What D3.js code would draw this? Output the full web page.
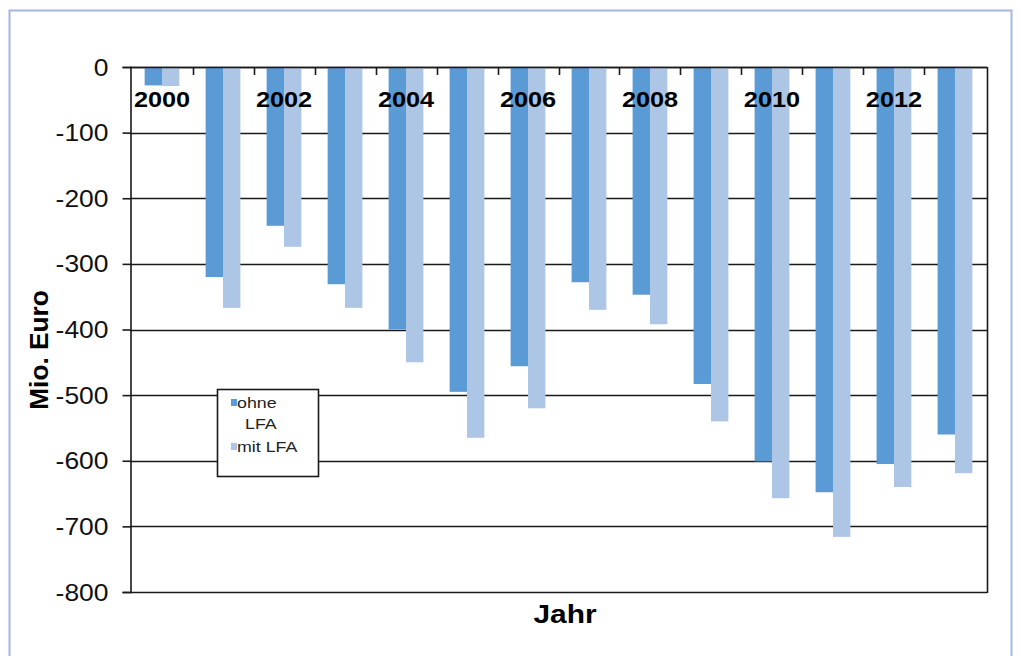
<!DOCTYPE html>
<html>
<head>
<meta charset="utf-8">
<script src="https://cdn.jsdelivr.net/npm/d3@7"></script>
<style>
  html, body { margin: 0; padding: 0; background: #fff; }
  svg { display: block; }
  text { font-family: "Liberation Sans", Arial, sans-serif; }
</style>
</head>
<body>
<svg id="chart" width="1020" height="656"></svg>
<script>
// Jahre (Kategorien) und Salden in Mio. Euro
const years = [2000, 2001, 2002, 2003, 2004, 2005, 2006, 2007, 2008, 2009, 2010, 2011, 2012, 2013];
const ohneLFA = [-28, -320, -242, -331, -400, -495, -456, -328, -347, -483, -601, -648, -605, -560];
const mitLFA  = [-29, -367, -274, -367, -450, -565, -520, -370, -392, -540, -657, -716, -640, -619];
const seriesNames = ["ohne LFA", "mit LFA"];
const seriesColors = ["#5b9bd5", "#adc6e6"];
const yTicks = [0, -100, -200, -300, -400, -500, -600, -700, -800];
const yearLabels = [2000, 2002, 2004, 2006, 2008, 2010, 2012];

const svg = d3.select("#chart");
const SX = 1.15; // horizontal stretch of the lettering

// outer chart frame
svg.append("rect")
  .attr("x", 9.5).attr("y", 10.5)
  .attr("width", 1002).attr("height", 700)
  .attr("fill", "none").attr("stroke", "#a3b6e4").attr("stroke-width", 2);

const plot = { left: 130, right: 987, top: 67, bottom: 592 };

const x = d3.scaleBand()
  .domain(years)
  .range([plot.left, plot.right])
  .paddingInner(0.43)
  .paddingOuter(0.24);

const xInner = d3.scaleBand()
  .domain(seriesNames)
  .range([0, x.bandwidth()]);

const y = d3.scaleLinear()
  .domain([-800, 0])
  .range([plot.bottom, plot.top]);

// horizontal gridlines
svg.append("g")
  .selectAll("line")
  .data(yTicks)
  .join("line")
  .attr("x1", plot.left).attr("x2", plot.right)
  .attr("y1", d => Math.round(y(d)) + 0.5).attr("y2", d => Math.round(y(d)) + 0.5)
  .attr("stroke", "#1a1a1a").attr("stroke-width", 1.6);

// plot area right border
svg.append("line")
  .attr("x1", plot.right + 0.5).attr("x2", plot.right + 0.5)
  .attr("y1", plot.top).attr("y2", plot.bottom + 1)
  .attr("stroke", "#1a1a1a").attr("stroke-width", 1.6);

// bars
const rows = years.map((yr, i) => ({ year: yr, values: [ohneLFA[i], mitLFA[i]] }));
svg.append("g")
  .selectAll("g")
  .data(rows)
  .join("g")
  .attr("transform", d => `translate(${x(d.year)},0)`)
  .selectAll("rect")
  .data(d => d.values.map((v, k) => ({ name: seriesNames[k], value: v, color: seriesColors[k] })))
  .join("rect")
  .attr("x", d => xInner(d.name))
  .attr("width", xInner.bandwidth())
  .attr("y", y(0))
  .attr("height", d => y(d.value) - y(0))
  .attr("fill", d => d.color);

// category axis along the zero line (ticks between categories, pointing down)
const boundaries = years.slice(1).map(yr => x(yr) - x.step() * x.paddingInner() / 2);
svg.append("g")
  .selectAll("line")
  .data(boundaries)
  .join("line")
  .attr("x1", d => Math.round(d) + 0.5).attr("x2", d => Math.round(d) + 0.5)
  .attr("y1", y(0)).attr("y2", y(0) + 8)
  .attr("stroke", "#1a1a1a").attr("stroke-width", 1.6);

svg.append("line")
  .attr("x1", plot.left).attr("x2", plot.right)
  .attr("y1", Math.round(y(0)) + 0.5).attr("y2", Math.round(y(0)) + 0.5)
  .attr("stroke", "#1a1a1a").attr("stroke-width", 1.6);

// year labels
svg.append("g")
  .selectAll("text")
  .data(yearLabels)
  .join("text")
  .attr("transform", d => `translate(${x(d) + x.bandwidth() / 2},107) scale(${SX},1)`)
  .attr("text-anchor", "middle")
  .attr("font-size", 22).attr("font-weight", "bold")
  .attr("fill", "#000")
  .text(d => d);

// value axis
const yAxis = svg.append("g")
  .attr("transform", `translate(${plot.left + 0.5},0)`)
  .call(d3.axisLeft(y).tickValues(yTicks).tickSize(8).tickPadding(0).tickFormat(d3.format("d")));
yAxis.select(".domain").attr("stroke", "#1a1a1a").attr("stroke-width", 1.6);
yAxis.selectAll(".tick line").attr("stroke", "#1a1a1a").attr("stroke-width", 1.6);
yAxis.selectAll(".tick text")
  .attr("x", null).attr("dy", null)
  .attr("transform", `translate(-22,8) scale(${SX},1)`)
  .attr("font-family", "'Liberation Sans', Arial, sans-serif")
  .attr("font-size", 23)
  .attr("fill", "#111")
  .text(d => d === 0 ? "0" : "-" + Math.abs(d));

// axis titles
svg.append("text")
  .attr("transform", `translate(48,350) rotate(-90) scale(1.05,1)`)
  .attr("text-anchor", "middle")
  .attr("font-size", 25).attr("font-weight", "bold")
  .text("Mio. Euro");

svg.append("text")
  .attr("transform", `translate(565,623) scale(${SX},1)`)
  .attr("text-anchor", "middle")
  .attr("font-size", 26).attr("font-weight", "bold")
  .text("Jahr");

// legend
const legend = svg.append("g").attr("transform", "translate(217,389)");
legend.append("rect")
  .attr("x", 0.5).attr("y", 0.5).attr("width", 101).attr("height", 87)
  .attr("fill", "#fff").attr("stroke", "#1a1a1a").attr("stroke-width", 1.6);

const legendLines = [
  { color: seriesColors[0], lines: ["ohne", "LFA"], y: 19 },
  { color: seriesColors[1], lines: ["mit LFA"], y: 63 }
];
legendLines.forEach(item => {
  legend.append("rect")
    .attr("x", 14).attr("y", item.y - 9).attr("width", 6).attr("height", 7)
    .attr("fill", item.color);
  item.lines.forEach((t, j) => {
    legend.append("text")
      .attr("transform", `translate(${j === 0 ? 20 : 28},${item.y + j * 21}) scale(${SX},1)`)
      .attr("font-size", 15.5)
      .attr("fill", "#222")
      .text(t);
  });
});
</script>
</body>
</html>
